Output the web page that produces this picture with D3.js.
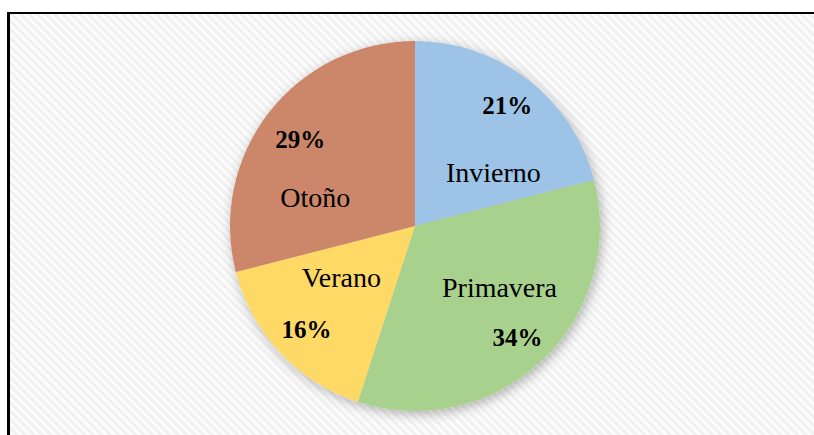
<!DOCTYPE html>
<meta charset="utf-8">
<style>
body { margin: 0; background: #fff; }
text { font-family: "Liberation Serif", "Times New Roman", serif; fill: #000; }
.name { font-size: 28px; }
.pct { font-size: 25px; font-weight: bold; }
</style>
<svg width="814" height="435"></svg>
<script src="https://d3js.org/d3.v7.min.js"></script>
<script>

// data
var seasons = ["Invierno", "Primavera", "Verano", "Otoño"];
var shares = [21, 34, 16, 29];
var colors = ["#9dc3e6", "#a9d18e", "#ffd966", "#cc876b"];

// label nudges around each slice centroid: [name dx, name dy, pct dx, pct dy]
var nudges = [
  [8, 47, 22, -21],
  [6, -13, 24, 36],
  [10, -18, -25, 33],
  [-9, 51, -24, -8]
];

var svg = d3.select("svg"),
    cx = 415, cy = 226, r = 185;

var defs = svg.append("defs");

var pat = defs.append("pattern")
    .attr("id", "stripes")
    .attr("patternUnits", "userSpaceOnUse")
    .attr("width", 6).attr("height", 6)
    .attr("patternTransform", "rotate(45)");
pat.append("rect").attr("width", 6).attr("height", 6).attr("fill", "#fcfcfc");
pat.append("rect").attr("width", 6).attr("height", 3).attr("fill", "#f1f1f1");

var shadow = defs.append("filter")
    .attr("id", "shadow")
    .attr("x", "-20%").attr("y", "-20%")
    .attr("width", "140%").attr("height", "140%");
shadow.append("feDropShadow")
    .attr("dx", 2).attr("dy", 3)
    .attr("stdDeviation", 6)
    .attr("flood-color", "#000")
    .attr("flood-opacity", 0.3);

// background + frame
svg.append("rect")
    .attr("x", 8).attr("y", 13)
    .attr("width", 900).attr("height", 500)
    .attr("fill", "url(#stripes)");
svg.append("line")
    .attr("x1", 8.5).attr("x2", 8.5).attr("y1", 12).attr("y2", 435)
    .attr("stroke", "#000").attr("stroke-width", 3);
svg.append("line")
    .attr("x1", 7).attr("x2", 814).attr("y1", 13).attr("y2", 13)
    .attr("stroke", "#000").attr("stroke-width", 2);

var pie = d3.pie().sort(null).value(function(d) { return d; });
var arcs = pie(shares);

var arc = d3.arc().innerRadius(0).outerRadius(r);
var labelArc = d3.arc().innerRadius(r * 0.62).outerRadius(r * 0.62);

var g = svg.append("g").attr("transform", "translate(" + cx + "," + cy + ")");

g.append("g")
    .attr("filter", "url(#shadow)")
  .selectAll("path")
  .data(arcs)
  .join("path")
    .attr("d", arc)
    .attr("fill", function(d, i) { return colors[i]; });

var labels = g.selectAll("g.lbl")
  .data(arcs)
  .join("g")
    .attr("class", "lbl")
    .attr("transform", function(d) { return "translate(" + labelArc.centroid(d) + ")"; });

labels.append("text")
    .attr("class", "name")
    .attr("text-anchor", "middle")
    .attr("x", function(d, i) { return nudges[i][0]; })
    .attr("y", function(d, i) { return nudges[i][1]; })
    .text(function(d, i) { return seasons[i]; });

labels.append("text")
    .attr("class", "pct")
    .attr("text-anchor", "middle")
    .attr("x", function(d, i) { return nudges[i][2]; })
    .attr("y", function(d, i) { return nudges[i][3]; })
    .text(function(d) { return d.value + "%"; });

</script>
